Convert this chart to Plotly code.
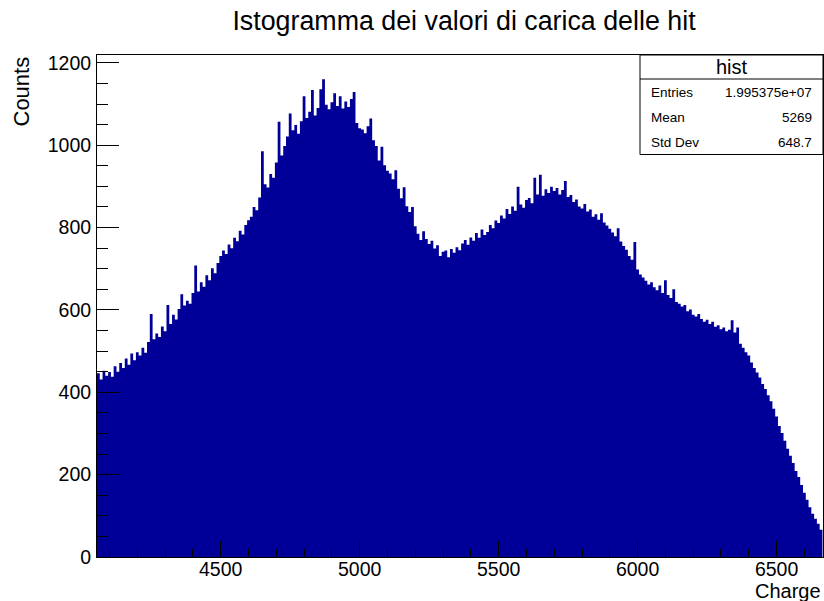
import plotly.graph_objects as go

# ---- data ----
BIN_LO = 4055
BIN_WIDTH = 10
counts = [
    446, 431, 452, 440, 449,
    438, 463, 450, 471, 459,
    482, 467, 494, 478, 497,
    489, 508, 496, 522, 590,
    529, 543, 534, 560, 548,
    612, 566, 588, 577, 602,
    638, 611, 622, 615, 641,
    708, 645, 667, 656, 684,
    672, 701, 689, 714, 731,
    744, 736, 759, 750, 775,
    767, 792, 783, 806, 818,
    826, 850, 842, 873, 985,
    905, 897, 930, 921, 958,
    1057, 975, 998, 1021, 1077,
    1036, 1049, 1028, 1058, 1119,
    1066, 1081, 1134, 1072, 1090,
    1136, 1160, 1098, 1087, 1104,
    1126, 1095, 1119, 1089, 1106,
    1093, 1112, 1129, 1054, 1041,
    1038, 1029, 1046, 1065, 1012,
    998, 963, 996, 951, 938,
    931, 917, 939, 894, 871,
    898, 852, 838, 850, 803,
    785, 770, 791, 772, 760,
    768, 749, 757, 731, 741,
    744, 728, 748, 739, 752,
    745, 761, 770, 758, 776,
    768, 787, 775, 795, 782,
    789, 806, 798, 817, 811,
    829, 822, 845, 833, 851,
    841, 899, 856, 848, 867,
    872, 859, 921, 880, 928,
    877, 893, 884, 899, 889,
    896, 880, 891, 913, 874,
    879, 862, 868, 851, 846,
    857, 839, 844, 826, 832,
    819, 835, 812, 805, 797,
    788, 779, 798, 766, 755,
    746, 731, 722, 765, 698,
    686, 679, 671, 662, 667,
    655, 648, 659, 641, 672,
    636, 629, 650, 619, 615,
    608, 612, 597, 601, 588,
    584, 590, 578, 571, 576,
    566, 571, 559, 563, 553,
    557, 548, 552, 575, 545,
    557, 518, 508, 497, 489,
    472, 459, 448, 436, 420,
    408, 393, 378, 360, 341,
    318, 301, 282, 263, 246,
    228, 209, 194, 175, 156,
    139, 121, 105, 93, 81,
    66,
]
x_range = [4055, 6667]
y_range = [0, 1219]

title_text = "Istogramma dei valori di carica delle hit"
x_title = "Charge"
y_title = "Counts"
stats_name = "hist"
stats_labels = ["Entries", "Mean", "Std Dev"]
stats_values = ["1.995375e+07", "5269", "648.7"]

# ---- figure ----
FONT = "Liberation Sans, Arial, Helvetica, sans-serif"
W, H = 824, 601
ML, MR, MT, MB = 97, 1, 55, 44
PW, PH = W - ML - MR, H - MT - MB

def px(xp):
    return (xp - ML) / PW

def py(yp):
    return (H - MB - yp) / PH

edges = [BIN_LO + BIN_WIDTH * i for i in range(len(counts) + 1)]
ys = counts + [counts[-1]]

fig = go.Figure()
fig.add_trace(go.Scatter(
    x=edges, y=ys, mode="lines", line=dict(shape="hv", width=0, color="#000099"),
    fill="tozeroy", fillcolor="#000099", hoverinfo="skip", showlegend=False,
))

axis_common = dict(
    showgrid=False, zeroline=False, showline=True, linecolor="black", linewidth=1,
    mirror=True, ticks="inside", tickcolor="black", tickwidth=1,
    tickfont=dict(family=FONT, size=19.5, color="black"),
)
fig.update_xaxes(range=x_range, dtick=500, tick0=0, ticklen=16, ticklabelstandoff=-5,
                 minor=dict(dtick=100, tick0=0, ticks="inside", ticklen=8, tickcolor="black"),
                 **axis_common)
fig.update_yaxes(range=y_range, dtick=200, tick0=0, ticklen=22, ticklabelstandoff=1,
                 minor=dict(dtick=50, tick0=0, ticks="inside", ticklen=11, tickcolor="black"),
                 **axis_common)

shapes = [
    dict(type="rect", xref="paper", yref="paper", x0=px(640), x1=1, y0=py(154.5), y1=1,
         line=dict(color="black", width=1), fillcolor="white", layer="above"),
    dict(type="line", xref="paper", yref="paper", x0=px(640), x1=1, y0=py(79), y1=py(79),
         line=dict(color="black", width=1), layer="above"),
]

ann = [
    dict(text=stats_name, x=px(731.7), y=py(66.7), xanchor="center", yanchor="middle",
         font=dict(family=FONT, size=20, color="black")),
    dict(text=x_title, x=1, y=py(591), xanchor="right", yanchor="middle",
         font=dict(family=FONT, size=20, color="black")),
    dict(text=y_title, x=px(20.5), y=1, xanchor="center", yanchor="top", textangle=-90,
         font=dict(family=FONT, size=22, color="black")),
]
row_y = [92.3, 117.3, 142.3]
for lab, val, ry in zip(stats_labels, stats_values, row_y):
    ann.append(dict(text=lab, x=px(649), y=py(ry), xanchor="left", yanchor="middle",
                    font=dict(family=FONT, size=13.5, color="black")))
    ann.append(dict(text=val, x=px(813.5), y=py(ry), xanchor="right", yanchor="middle",
                    font=dict(family=FONT, size=13.5, color="black")))
for a in ann:
    a.update(xref="paper", yref="paper", showarrow=False)

fig.update_layout(
    width=W, height=H, margin=dict(l=ML, r=MR, t=MT, b=MB),
    paper_bgcolor="white", plot_bgcolor="white",
    title=dict(text=title_text, x=464 / W, xref="container", xanchor="center",
               y=1 - 20.5 / H, yref="container", yanchor="middle",
               font=dict(family=FONT, size=26.8, color="black")),
    shapes=shapes, annotations=ann,
)

fig.write_html("out.html")
